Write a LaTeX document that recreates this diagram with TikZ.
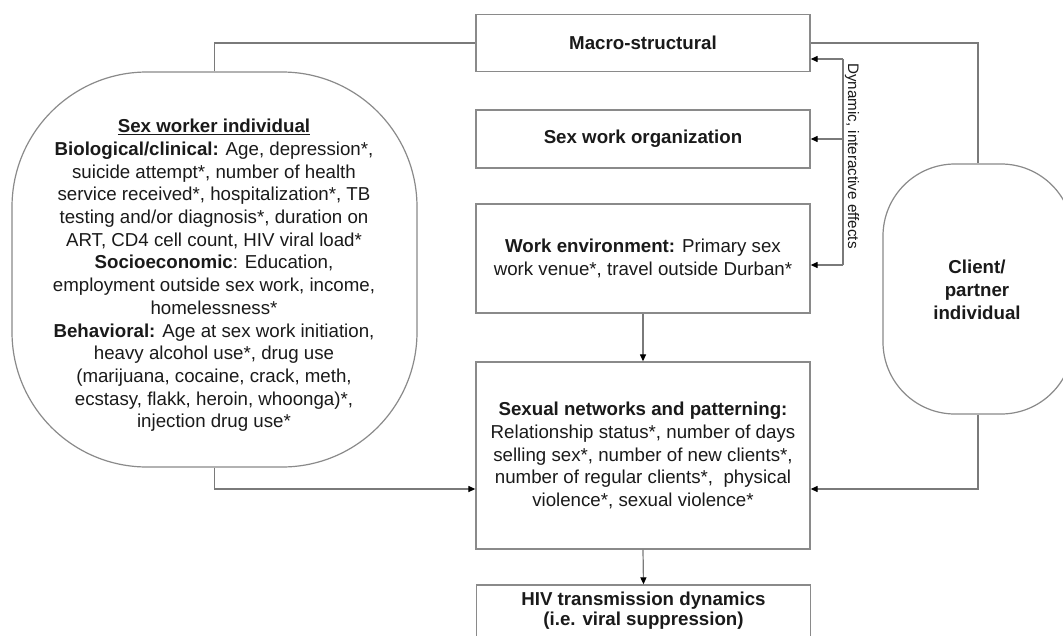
\documentclass[tikz,border=0pt]{standalone}
\usepackage{fontspec}
\setmainfont{Liberation Sans}
\usetikzlibrary{arrows.meta}
\definecolor{linegray}{HTML}{8A8A8A}
\definecolor{conngray}{HTML}{7A7A7A}
\definecolor{txt}{HTML}{1A1A1A}
\begin{document}
\begin{tikzpicture}[x=1pt,y=-1pt,
  every node/.style={text=txt},
  mainfont/.style={font=\fontsize{18.7}{22.7}\selectfont},
  box/.style={draw=linegray, line width=1.3pt, minimum width=334pt, align=center, inner sep=0pt, mainfont},
  blob/.style={draw=linegray, line width=1.2pt, inner sep=0pt},
  conn/.style={draw=conngray, line width=1.2pt},
  arr/.style={conn, -{Triangle[length=7pt,width=6pt,color=black]}},
  ]
\useasboundingbox (0,0) rectangle (1063,635);
\fill[white] (0,0) rectangle (1063,635);

% boxes
\node[box, minimum height=57.5pt] (macro) at (643,43) {\textbf{Macro-structural}};
\node[box, minimum height=58pt] (org) at (643,139) {\textbf{Sex work organization}};
\node[box, minimum height=109pt] (work) at (643,258.5) {\textbf{Work environment:} Primary sex\\work venue*, travel outside Durban*};
\node[box, minimum height=187pt] (sex) at (643,455.5) {\textbf{Sexual networks and patterning:}\\Relationship status*, number of days\\selling sex*, number of new clients*,\\number of regular clients*,\ \ physical\\violence*, sexual violence*};
\node[box, minimum height=52pt, font=\fontsize{18.7}{20}\selectfont] (hiv) at (643.5,611) {\textbf{HIV transmission dynamics}\\\textbf{(i.e. viral suppression)}};

% sex worker individual
\node[blob, rounded corners=135pt, minimum width=405pt, minimum height=395pt] (sw) at (214.5,269.5) {};
\node[mainfont, align=center, inner sep=0pt] (swt) at (214,275.5) {\underline{\textbf{Sex worker individual}}\\
\textbf{Biological/clinical:} Age, depression*,\\
suicide attempt*, number of health\\
service received*, hospitalization*, TB\\
testing and/or diagnosis*, duration on\\
ART, CD4 cell count, HIV viral load*\\
\textbf{Socioeconomic}: Education,\\
employment outside sex work, income,\\
homelessness*\\
\textbf{Behavioral:} Age at sex work initiation,\\
heavy alcohol use*, drug use\\
(marijuana, cocaine, crack, meth,\\
ecstasy, flakk, heroin, whoonga)*,\\
injection drug use*};

% client
\node[blob, rounded corners=72pt, minimum width=190pt, minimum height=250pt] (cl) at (978,289) {};
\node[font=\fontsize{18.7}{23}\selectfont\bfseries, align=center, inner sep=0pt] (clt) at (977,290) {Client/\\partner\\individual};

% dynamic effects
\coordinate (d1) at (843,59);
\coordinate (d2) at (843,139);
\coordinate (d3) at (843,265);
\coordinate (j) at (0,489);
\draw[conn] (d1) -- (d3);
\draw[arr] (d1) -- (macro.east |- d1);
\draw[arr] (d2) -- (org.east |- d2);
\draw[arr] (d3) -- (work.east |- d3);
\node[rotate=-90, font=\fontsize{15.2}{18}\selectfont, inner sep=0pt] (dyn) at (852,156) {Dynamic, interactive effects};

% connectors
\draw[conn] (sw.north) |- (macro.west);
\draw[conn] (macro.east) -| (cl.north);
\draw[arr] (sw.south) |- (sex.west |- j);
\draw[arr] (cl.south) |- (sex.east |- j);
\draw[arr] (work.south) -- (sex.north);
\draw[arr] (sex.south) -- (hiv.north);
\end{tikzpicture}
\end{document}
